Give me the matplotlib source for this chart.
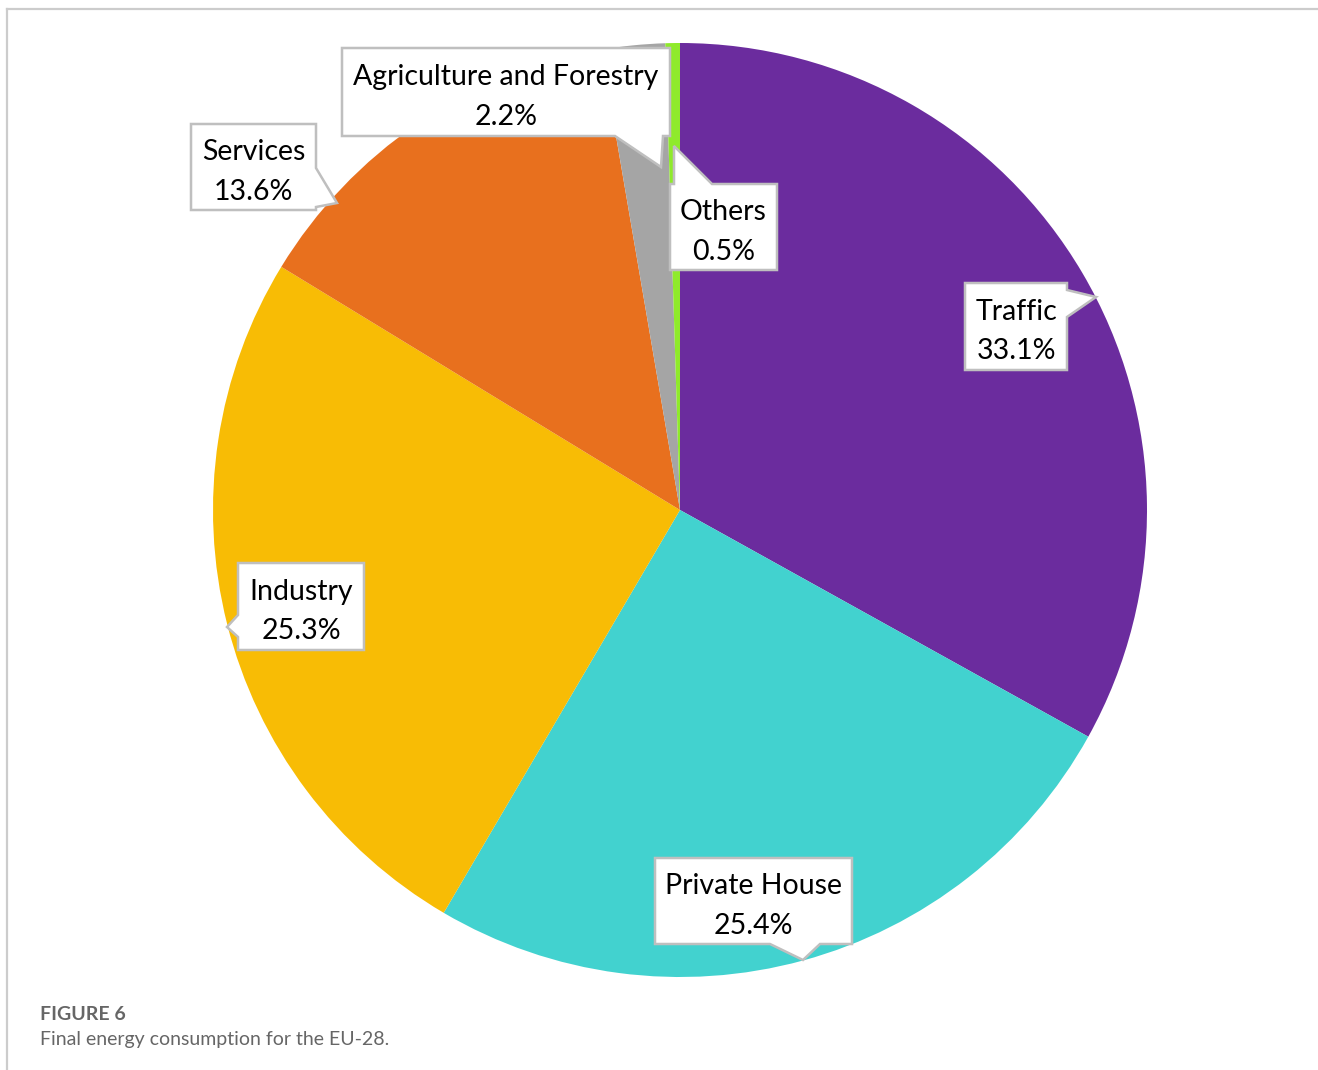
import numpy as np
import matplotlib
matplotlib.use("Agg")
import matplotlib.pyplot as plt
from matplotlib.patches import Polygon
from matplotlib.lines import Line2D

# data
sectors = ["Traffic", "Private House", "Industry", "Services",
           "Agriculture and Forestry", "Others"]
shares = [33.1, 25.4, 25.3, 13.6, 2.2, 0.5]
colors = ["#6B2C9E", "#42D2CF", "#F8BC05", "#E8701E", "#A5A5A5", "#8FEA2B"]

# callout layout in pixels of the 1318x1070 picture:
# box (left, right, top, bottom), side of tail, tail base (two px along side), tip (px)
W, H = 1318, 1070
CX, CY, R = 680, 510, 467
callouts = {
    "Traffic":                  ((965, 1067, 283, 370), "right",  (290, 317), (1096, 297)),
    "Private House":            ((655, 852, 858, 944),  "bottom", (770, 820), (803, 960)),
    "Industry":                 ((238, 364, 563, 650),  "left",   (615, 637), (227, 627)),
    "Services":                 ((191, 316, 124, 210),  "right",  (168, 207), (337, 203)),
    "Agriculture and Forestry": ((342, 670, 48, 136),   "bottom", (615, 663), (661, 167)),
    "Others":                   ((670, 777, 184, 270),  "top",    (674, 712), (674, 146)),
}


def px(x, y):
    # pixel -> pie data units
    return ((x - CX) / R, (CY - y) / R)


fig = plt.figure(figsize=(W / 100, H / 100), dpi=100)

# frame lines of the figure panel
fig.add_artist(Line2D([7 / W, 1], [1 - 9 / H, 1 - 9 / H], color="#cccccc", lw=1.6))
fig.add_artist(Line2D([7 / W, 7 / W], [0, 1 - 9 / H], color="#cccccc", lw=1.6))

lim = 1.1
side = 2 * lim * R
ax = fig.add_axes([(CX - side / 2) / W, (H - CY - side / 2) / H, side / W, side / H])
ax.pie(shares, colors=colors, startangle=90, counterclock=False,
       radius=1, wedgeprops=dict(linewidth=0))
ax.set_xlim(-lim, lim)
ax.set_ylim(-lim, lim)
ax.set_aspect("equal")
ax.axis("off")

for name, val in zip(sectors, shares):
    (l, r, t, b), where, (b0, b1), tip = callouts[name]
    if where == "bottom":
        pts = [(l, b), (b0, b), tip, (b1, b), (r, b), (r, t), (l, t)]
    elif where == "top":
        pts = [(l, b), (r, b), (r, t), (b1, t), tip, (b0, t), (l, t)]
    elif where == "right":
        pts = [(l, b), (r, b), (r, b1), tip, (r, b0), (r, t), (l, t)]
    else:
        pts = [(l, b), (r, b), (r, t), (l, t), (l, b0), tip, (l, b1)]
    poly = Polygon([px(*p) for p in pts], closed=True, facecolor="white",
                   edgecolor="#bfbfbf", lw=1.8, zorder=4)
    ax.add_patch(poly)
    tx, ty = px((l + r) / 2, (t + b) / 2 + 5)
    ax.text(tx, ty, f"{name}\n{val:.1f}%", ha="center", va="center",
            fontsize=20.5, family="Lato", color="black",
            linespacing=1.62, zorder=5)

fig.text(40 / W, 1 - 1015 / H, "FIGURE 6", fontsize=14, fontweight="bold",
         family="Lato", color="#666666", va="center")
fig.text(40 / W, 1 - 1040 / H, "Final energy consumption for the EU-28.",
         fontsize=14, family="Lato", color="#666666", va="center")

fig.savefig("out.png", dpi=100, facecolor="white")
